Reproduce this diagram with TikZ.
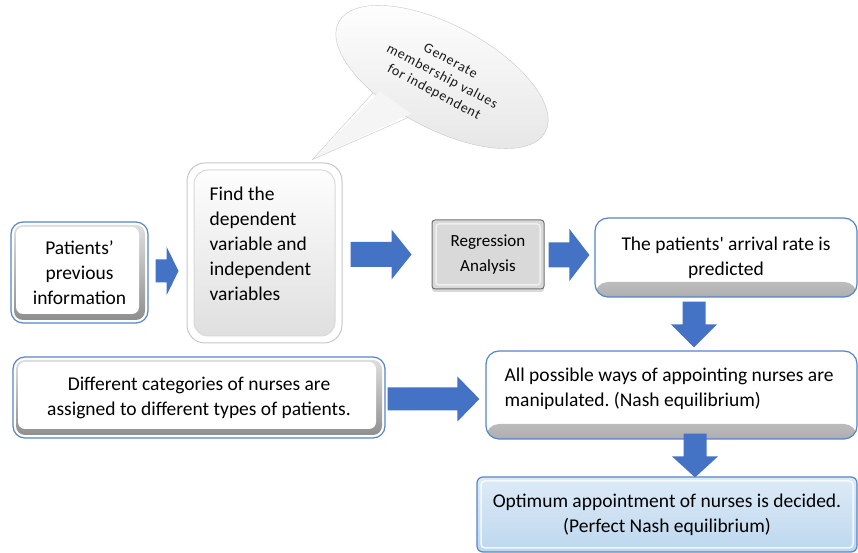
\documentclass[tikz,border=0pt]{standalone}
\usepackage{fontspec}
\setmainfont{Carlito}
\newfontfamily\bubblefont[LetterSpace=6]{Carlito}
\usetikzlibrary{calc,shapes.geometric,shadows}

\definecolor{arrowblue}{RGB}{68,114,196}
\definecolor{edgeblue}{RGB}{86,132,202}
\definecolor{paleblue}{RGB}{221,235,247}
\definecolor{skyblue}{RGB}{189,215,238}

% fat block arrows: tail, tip, shaft half width, head half width, head length
\newcommand\harrow[5]{%
  \fill[arrowblue] let \p1=#1, \p2=#2 in
    (\x1,\y2+#3) -- (\x2-#5,\y2+#3) -- (\x2-#5,\y2+#4) -- (\x2,\y2)
    -- (\x2-#5,\y2-#4) -- (\x2-#5,\y2-#3) -- (\x1,\y2-#3) -- cycle;}
\newcommand\varrow[5]{%
  \fill[arrowblue] let \p1=#1, \p2=#2 in
    (\x2+#3,\y1) -- (\x2+#3,\y2+#5) -- (\x2+#4,\y2+#5) -- (\x2,\y2)
    -- (\x2-#4,\y2+#5) -- (\x2-#3,\y2+#5) -- (\x2-#3,\y1) -- cycle;}

\begin{document}
\frenchspacing
\begin{tikzpicture}[x=1pt,y=1pt,
    every node/.style={font=\fontsize{19.5}{25}\selectfont, inner sep=0pt},
    bevelbox/.style={draw=edgeblue, line width=1.2pt, rounded corners=12pt, fill=white, align=center,
      path picture={
        \shade[top color=black!12, bottom color=black!45, rounded corners=9pt]
          ([shift={(3pt,3pt)}]path picture bounding box.south west) rectangle ([shift={(-3pt,-3pt)}]path picture bounding box.north east);
        \fill[white, rounded corners=7pt]
          ([shift={(5pt,9pt)}]path picture bounding box.south west) rectangle ([shift={(-9pt,-5pt)}]path picture bounding box.north east);}},
    bluebox/.style={draw=edgeblue, line width=1.2pt, rounded corners=13pt, fill=white, align=center,
      path picture={
        \shade[top color=white, bottom color=black!32]
          ([yshift=15pt]path picture bounding box.south west) rectangle (path picture bounding box.south east);}},
    findbox/.style={draw=black!22, line width=1pt, rounded corners=18pt, fill=white,
      path picture={
        \draw[black!15, rounded corners=14pt, top color=white, bottom color=black!13]
          ([shift={(7pt,7pt)}]path picture bounding box.south west) rectangle ([shift={(-7pt,-7pt)}]path picture bounding box.north east);}},
    regbox/.style={draw=black!55, line width=1pt, rounded corners=3pt, fill=black!15, align=center,
      drop shadow={shadow xshift=0pt, shadow yshift=-3pt, opacity=0.3},
      font=\fontsize{17}{25}\selectfont,
      path picture={
        \draw[black!6, line width=1.5pt]
          ([shift={(4pt,4pt)}]path picture bounding box.south west) rectangle ([shift={(-4pt,-4pt)}]path picture bounding box.north east);}},
    bestbox/.style={draw=edgeblue, line width=1.2pt, rounded corners=6pt, top color=paleblue, bottom color=skyblue, align=center,
      path picture={
        \draw[white, line width=1.5pt, opacity=0.8, rounded corners=4pt]
          ([shift={(4pt,4pt)}]path picture bounding box.south west) rectangle ([shift={(-4pt,-4pt)}]path picture bounding box.north east);}},
    bubble/.style={ellipse, draw=black!22, top color=white, bottom color=black!10, rotate=-28,
      minimum width=234pt, minimum height=104pt, align=center, text=black!90,
      font=\bubblefont\fontsize{14}{17.5}\selectfont},
    plaintext/.style={align=left, anchor=west}
  ]
  \useasboundingbox (0,0) rectangle (858,553);

  % first row
  \node[bevelbox, minimum width=137pt, minimum height=101pt] (pat) at (79.5,280.5)
    {Patients’\\previous\\information};
  \node[findbox, minimum width=155pt, minimum height=180pt] (find) at (264.5,300) {};
  \node[plaintext] (findtxt) at ([xshift=23pt,yshift=9pt]find.west)
    {Find the\\dependent\\variable and\\independent\\variables};
  \node[regbox, minimum width=112pt, minimum height=69pt] (reg) at (488,298.5)
    {Regression\\Analysis};
  \node[bluebox, minimum width=262pt, minimum height=79pt] (arr) at (726,295.5)
    {The patients\textquotesingle\ arrival rate is\\predicted};

  % speech bubble
  \node[bubble] (memb) at (442,476) {Generate\\membership values\\for independent};
  \coordinate (tip) at ([xshift=-30pt,yshift=3pt]find.north east);
  \fill[black!4] ($(memb.center)!0.9!(memb.221)$) -- (tip) -- ($(memb.center)!0.9!(memb.258)$) -- cycle;
  \draw[black!22] (memb.221) -- (tip) -- (memb.258);

  % second and third rows
  \node[bevelbox, minimum width=372pt, minimum height=81pt] (diff) at (199,155.5)
    {Different categories of nurses are\\assigned to different types of patients.};
  \node[bluebox, minimum width=371pt, minimum height=88pt] (all) at (671.5,158) {};
  \node[plaintext] (alltxt) at ([xshift=19pt,yshift=6.5pt]all.west)
    {All possible ways of appointing nurses are\\manipulated. (Nash equilibrium)};
  \node[bestbox, minimum width=380pt, minimum height=75pt] (opt) at (667,38.5)
    {Optimum appointment of nurses is decided.\\(Perfect Nash equilibrium)};

  % arrows
  \harrow{($(pat.east)+(7,0)$)}{($(find.west)+(-8,-18)$)}{11.5pt}{24.5pt}{12pt}
  \harrow{($(find.east)+(8,0)$)}{($(reg.west)+(-20,0)$)}{12.5pt}{25pt}{20pt}
  \harrow{($(reg.east)+(4,0)$)}{($(arr.west)+(-5,2.5)$)}{12.5pt}{26pt}{20pt}
  \varrow{($(arr.south)+(-32,-4)$)}{($(all.north)+(22.5,3)$)}{11.5pt}{23pt}{23pt}
  \harrow{($(diff.east)+(2,0)$)}{($(all.west)+(-6,-4)$)}{11.5pt}{22.5pt}{22pt}
  \varrow{($(all.south)+(23.5,6)$)}{($(opt.north)+(28,-1)$)}{11.5pt}{23pt}{21pt}
\end{tikzpicture}
\end{document}
